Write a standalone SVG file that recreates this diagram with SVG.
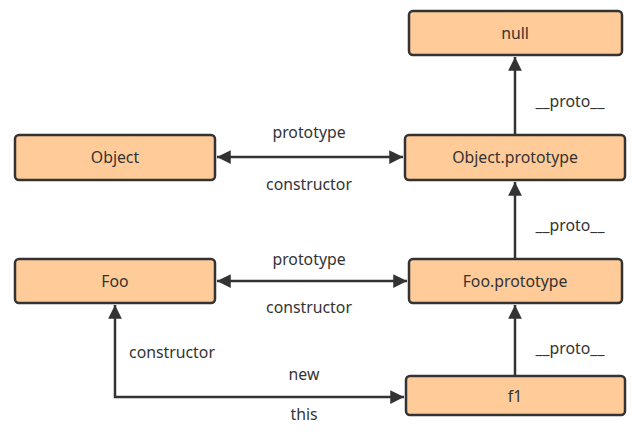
<svg xmlns="http://www.w3.org/2000/svg" width="642" height="441" viewBox="0 0 642 441">
<defs>
<style>
.box{fill:#FFCC99;stroke:#333;stroke-width:2.5}
.t{font-family:"Noto Sans","Open Sans",sans-serif;font-size:15.8px;fill:#333;text-anchor:middle;dominant-baseline:central}
.c{stroke:#333;stroke-width:2.5;fill:none}
</style>
<marker id="a" viewBox="0 0 10 10" refX="10" refY="5" markerWidth="5.5" markerHeight="5.5" orient="auto-start-reverse" markerUnits="strokeWidth"><path d="M0,0L10,5L0,10z" fill="#333"/></marker>
</defs>
<rect width="642" height="441" fill="#fff"/>
<g id="connectors">
<path class="c" d="M515,135V57" marker-end="url(#a)"/>
<path class="c" d="M515,259V182" marker-end="url(#a)"/>
<path class="c" d="M515,376V305" marker-end="url(#a)"/>
<path class="c" d="M217,157H403" marker-start="url(#a)" marker-end="url(#a)"/>
<path class="c" d="M217,281H407" marker-start="url(#a)" marker-end="url(#a)"/>
<path class="c" d="M115,305V397H404" marker-start="url(#a)" marker-end="url(#a)"/>
<text class="t" x="570" y="101">__proto__</text>
<text class="t" x="570" y="225">__proto__</text>
<text class="t" x="570" y="348">__proto__</text>
<text class="t" x="309" y="132">prototype</text>
<text class="t" x="309" y="184">constructor</text>
<text class="t" x="309" y="259">prototype</text>
<text class="t" x="309" y="307">constructor</text>
<text class="t" x="172" y="352">constructor</text>
<text class="t" x="304" y="374">new</text>
<text class="t" x="304" y="414">this</text>
</g>
<g id="null"><rect class="box" x="409" y="11" width="213" height="44" rx="4"/><text class="t" x="515" y="33">null</text></g>
<g id="objectPrototype"><rect class="box" x="405" y="135" width="220" height="45" rx="4"/><text class="t" x="515" y="157">Object.prototype</text></g>
<g id="object"><rect class="box" x="15" y="135" width="200" height="45" rx="4"/><text class="t" x="115" y="157">Object</text></g>
<g id="foo"><rect class="box" x="15" y="259" width="200" height="44" rx="4"/><text class="t" x="115" y="281">Foo</text></g>
<g id="fooPrototype"><rect class="box" x="409" y="259" width="213" height="44" rx="4"/><text class="t" x="515" y="281">Foo.prototype</text></g>
<g id="f1"><rect class="box" x="406" y="376" width="219" height="39" rx="4"/><text class="t" x="515" y="396">f1</text></g>
</svg>
